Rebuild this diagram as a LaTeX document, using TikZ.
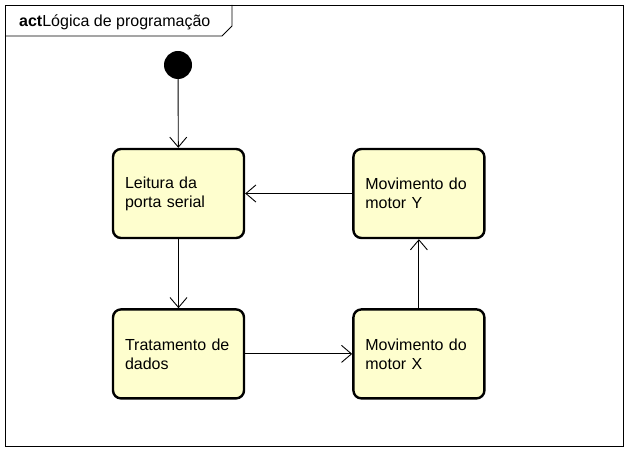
\documentclass[tikz,border=0pt]{standalone}
\usepackage{fontspec}
\setmainfont{Liberation Sans}
\usetikzlibrary{arrows.meta,positioning}
\definecolor{actfill}{RGB}{254,254,206}

\begin{document}
\begin{tikzpicture}[x=1pt,y=-1pt,
    action/.style={
      rectangle,
      draw,
      line width=2.4pt,
      rounded corners=8pt,
      fill=actfill,
      text width=107pt,
      inner sep=12pt,
      align=left,
      minimum height=89pt,
      font=\fontsize{16}{19}\selectfont
    },
    >={Straight Barb[length=10pt,width=17pt]},
    flow/.style={->, line width=0.9pt}
  ]
  \useasboundingbox (0,0) rectangle (629,454);
  % frame and header
  \draw[line width=0.9pt] (5,5) rectangle (623,446);
  \draw[line width=0.9pt] (5,36) -- (222,36) -- (232,26) -- (232,5);
  \node[anchor=base west, inner sep=0pt, font=\fontsize{16}{19}\selectfont] (titulo) at (19,27) {\textbf{act}Lógica de programação};

  \node[circle, fill=black, minimum size=28pt, inner sep=0pt] (inicio) at (178,65) {};
  \node[action] (leitura) at (178.5,193.5) {Leitura da\\porta serial};
  \node[action, right=107pt of leitura] (motorY) {Movimento do\\motor Y};
  \node[action, below=69pt of leitura] (tratamento) {Tratamento de\\dados};
  \node[action, right=107pt of tratamento] (motorX) {Movimento do\\motor X};

  \draw[flow] (inicio) -- (leitura);
  \draw[flow] (leitura) -- (tratamento);
  \draw[flow] (tratamento) -- (motorX);
  \draw[flow] (motorX) -- (motorY);
  \draw[flow] (motorY) -- (leitura);
\end{tikzpicture}
\end{document}
